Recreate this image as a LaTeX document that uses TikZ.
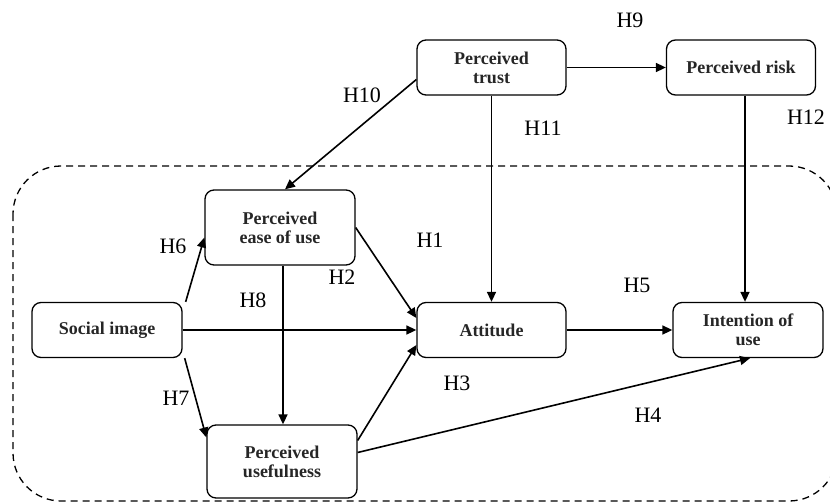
\documentclass[tikz,border=0pt]{standalone}
\usepackage{fontspec}
\setmainfont{Liberation Serif}
\usetikzlibrary{arrows.meta}

\begin{document}
\begin{tikzpicture}[x=1pt, y=-1pt,
  box/.style={draw, rounded corners=9pt, line width=1.3pt, minimum width=149pt, minimum height=55pt, font=\bfseries\fontsize{18}{19}\selectfont, text=black!85, align=center, inner sep=2pt},
  arr/.style={-{Triangle[length=10pt,width=9pt]}, line width=1.6pt},
  hyp/.style={font=\fontsize{22}{24}\selectfont},
  region/.style={dash pattern=on 7pt off 5pt, line width=1.3pt, rounded corners=48pt},
]
\clip (0,0) rectangle (830,503);

% ===== TAM core (dashed region) =====
\draw[region] (13,166) rectangle (837,501);

\node[box, minimum width=150pt, minimum height=75pt] (ease) at (280,227.5) {Perceived\\ease of use};
\node[box, minimum width=150pt] (social) at (107,330) {Social image};
\node[box] (att) at (491.5,330) {Attitude};
\node[box, minimum width=150pt] (intent) at (748,330) {Intention of\\use};
\node[box, minimum width=150pt, minimum height=73pt] (useful) at (282,461.5) {Perceived\\usefulness};

% ===== trust and risk =====
\node[box] (trust) at (491.5,67.5) {Perceived\\trust};
\node[box] (risk) at (741,67.5) {Perceived risk};

\draw[arr] (trust) -- (risk);
\draw[arr] ([yshift=-12pt]trust.west) -- ([xshift=5pt]ease.north);
\draw[arr] (trust) -- (att);
\draw[arr] ([xshift=4pt]risk.south) -- ([xshift=-3pt]intent.north);

\draw[arr] (ease.east) -- ([yshift=12pt]att.west);
\draw[arr] ([xshift=3pt]ease.south) -- ([xshift=1pt]useful.north);
\draw[arr] ([xshift=3pt]social.north east) -- ([yshift=-10pt]ease.west);
\draw[arr] (social) -- (att);
\draw[arr] ([xshift=2pt]social.south east) -- ([yshift=24pt]useful.west);
\draw[arr] ([yshift=21pt]useful.east) -- ([yshift=-15pt]att.west);
\draw[arr] ([yshift=9pt]useful.east) -- ([xshift=2pt]intent.south);
\draw[arr] (att) -- (intent);

% ===== hypotheses =====
\node[hyp] (h1) at (430,240) {H1};
\node[hyp] (h2) at (342,277) {H2};
\node[hyp] (h3) at (457,383) {H3};
\node[hyp] (h4) at (648,415) {H4};
\node[hyp] (h5) at (637,285) {H5};
\node[hyp] (h6) at (173,246) {H6};
\node[hyp] (h7) at (176,398) {H7};
\node[hyp] (h8) at (253,300) {H8};
\node[hyp] (h9) at (630,20) {H9};
\node[hyp] (h10) at (362,95) {H10};
\node[hyp] (h11) at (543,128) {H11};
\node[hyp] (h12) at (806,117) {H12};

\end{tikzpicture}
\end{document}
